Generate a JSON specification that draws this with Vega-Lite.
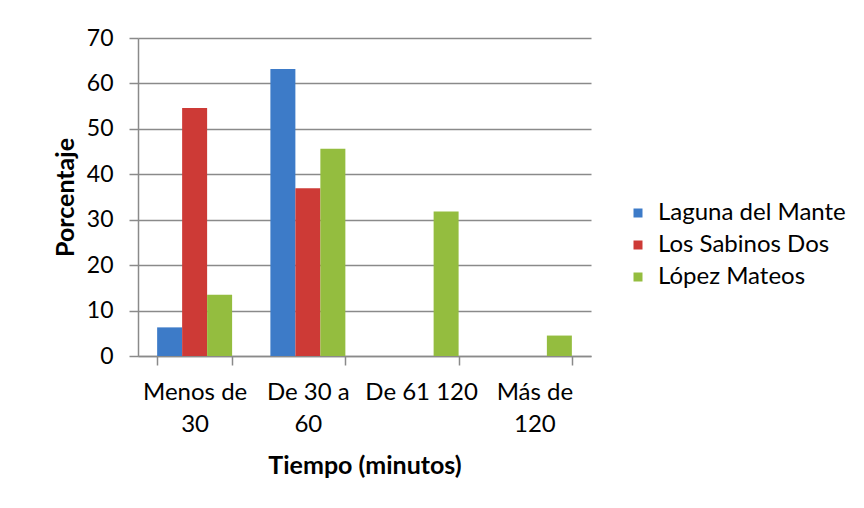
{
  "$schema": "https://vega.github.io/schema/vega-lite/v6.json",
  "autosize": {"type": "none"},
  "padding": {"left": 138, "top": 38, "right": 273, "bottom": 152},
  "width": 453,
  "height": 318,
  "background": "white",
  "data": {
    "values": [
      {"tiempo": "Menos de 30", "serie": "Laguna del Mante", "pct": 6.3},
      {"tiempo": "Menos de 30", "serie": "Los Sabinos Dos", "pct": 54.6},
      {"tiempo": "Menos de 30", "serie": "López Mateos", "pct": 13.5},
      {"tiempo": "De 30 a 60", "serie": "Laguna del Mante", "pct": 63.2},
      {"tiempo": "De 30 a 60", "serie": "Los Sabinos Dos", "pct": 36.9},
      {"tiempo": "De 30 a 60", "serie": "López Mateos", "pct": 45.6},
      {"tiempo": "De 61 120", "serie": "Laguna del Mante", "pct": 0},
      {"tiempo": "De 61 120", "serie": "Los Sabinos Dos", "pct": 0},
      {"tiempo": "De 61 120", "serie": "López Mateos", "pct": 31.8},
      {"tiempo": "Más de 120", "serie": "Laguna del Mante", "pct": 0},
      {"tiempo": "Más de 120", "serie": "Los Sabinos Dos", "pct": 0},
      {"tiempo": "Más de 120", "serie": "López Mateos", "pct": 4.5}
    ]
  },
  "mark": {"type": "bar"},
  "encoding": {
    "x": {
      "field": "tiempo",
      "type": "nominal",
      "sort": ["Menos de 30", "De 30 a 60", "De 61 120", "Más de 120"],
      "scale": {"paddingInner": 0.338, "paddingOuter": 0.169},
      "axis": {
        "title": "Tiempo (minutos)",
        "labelAngle": 0,
        "labelExpr": "datum.value == 'Menos de 30' ? ['Menos de', '30'] : datum.value == 'De 30 a 60' ? ['De 30 a', '60'] : datum.value == 'Más de 120' ? ['Más de', '120'] : datum.value",
        "labelLineHeight": 32,
        "labelPadding": 15,
        "labelLimit": 200,
        "tickBand": "extent",
        "tickSize": 9,
        "titleY": 109,
        "titleBaseline": "middle",
        "titleFontSize": 25
      }
    },
    "xOffset": {
      "field": "serie",
      "type": "nominal",
      "sort": ["Laguna del Mante", "Los Sabinos Dos", "López Mateos"],
      "scale": {"paddingInner": 0, "paddingOuter": 0}
    },
    "y": {
      "field": "pct",
      "type": "quantitative",
      "scale": {"domain": [0, 70], "nice": false},
      "axis": {
        "title": "Porcentaje",
        "values": [0, 10, 20, 30, 40, 50, 60, 70],
        "tickSize": 9,
        "labelPadding": 16,
        "labelFontSize": 23,
        "titleX": -73,
        "titleY": 159,
        "titleAlign": "center",
        "titleBaseline": "middle",
        "titleAngle": -90,
        "titleFontSize": 25
      }
    },
    "color": {
      "field": "serie",
      "type": "nominal",
      "sort": ["Laguna del Mante", "Los Sabinos Dos", "López Mateos"],
      "scale": {"range": ["#3D7BC8", "#CD3A36", "#94BD3F"]},
      "legend": {
        "title": null,
        "orient": "none",
        "legendX": 488,
        "legendY": 163,
        "symbolType": "square",
        "symbolSize": 81,
        "symbolStrokeWidth": 0,
        "labelFontSize": 24,
        "labelFont": "Lato",
        "labelColor": "#000000",
        "labelLimit": 400,
        "rowPadding": 8,
        "labelOffset": 8,
        "padding": 0
      }
    }
  },
  "config": {
    "view": {"stroke": null},
    "axis": {
      "labelFont": "Lato",
      "labelFontSize": 24,
      "labelColor": "#000000",
      "titleFont": "Lato",
      "titleFontSize": 25,
      "titleFontWeight": "bold",
      "titleColor": "#000000",
      "domainColor": "#8a8a8a",
      "domainWidth": 1.5,
      "tickColor": "#8a8a8a",
      "tickWidth": 1.5,
      "gridColor": "#8a8a8a",
      "gridWidth": 1.5
    },
    "axisX": {"grid": false},
    "axisY": {"grid": true, "domain": true}
  }
}
